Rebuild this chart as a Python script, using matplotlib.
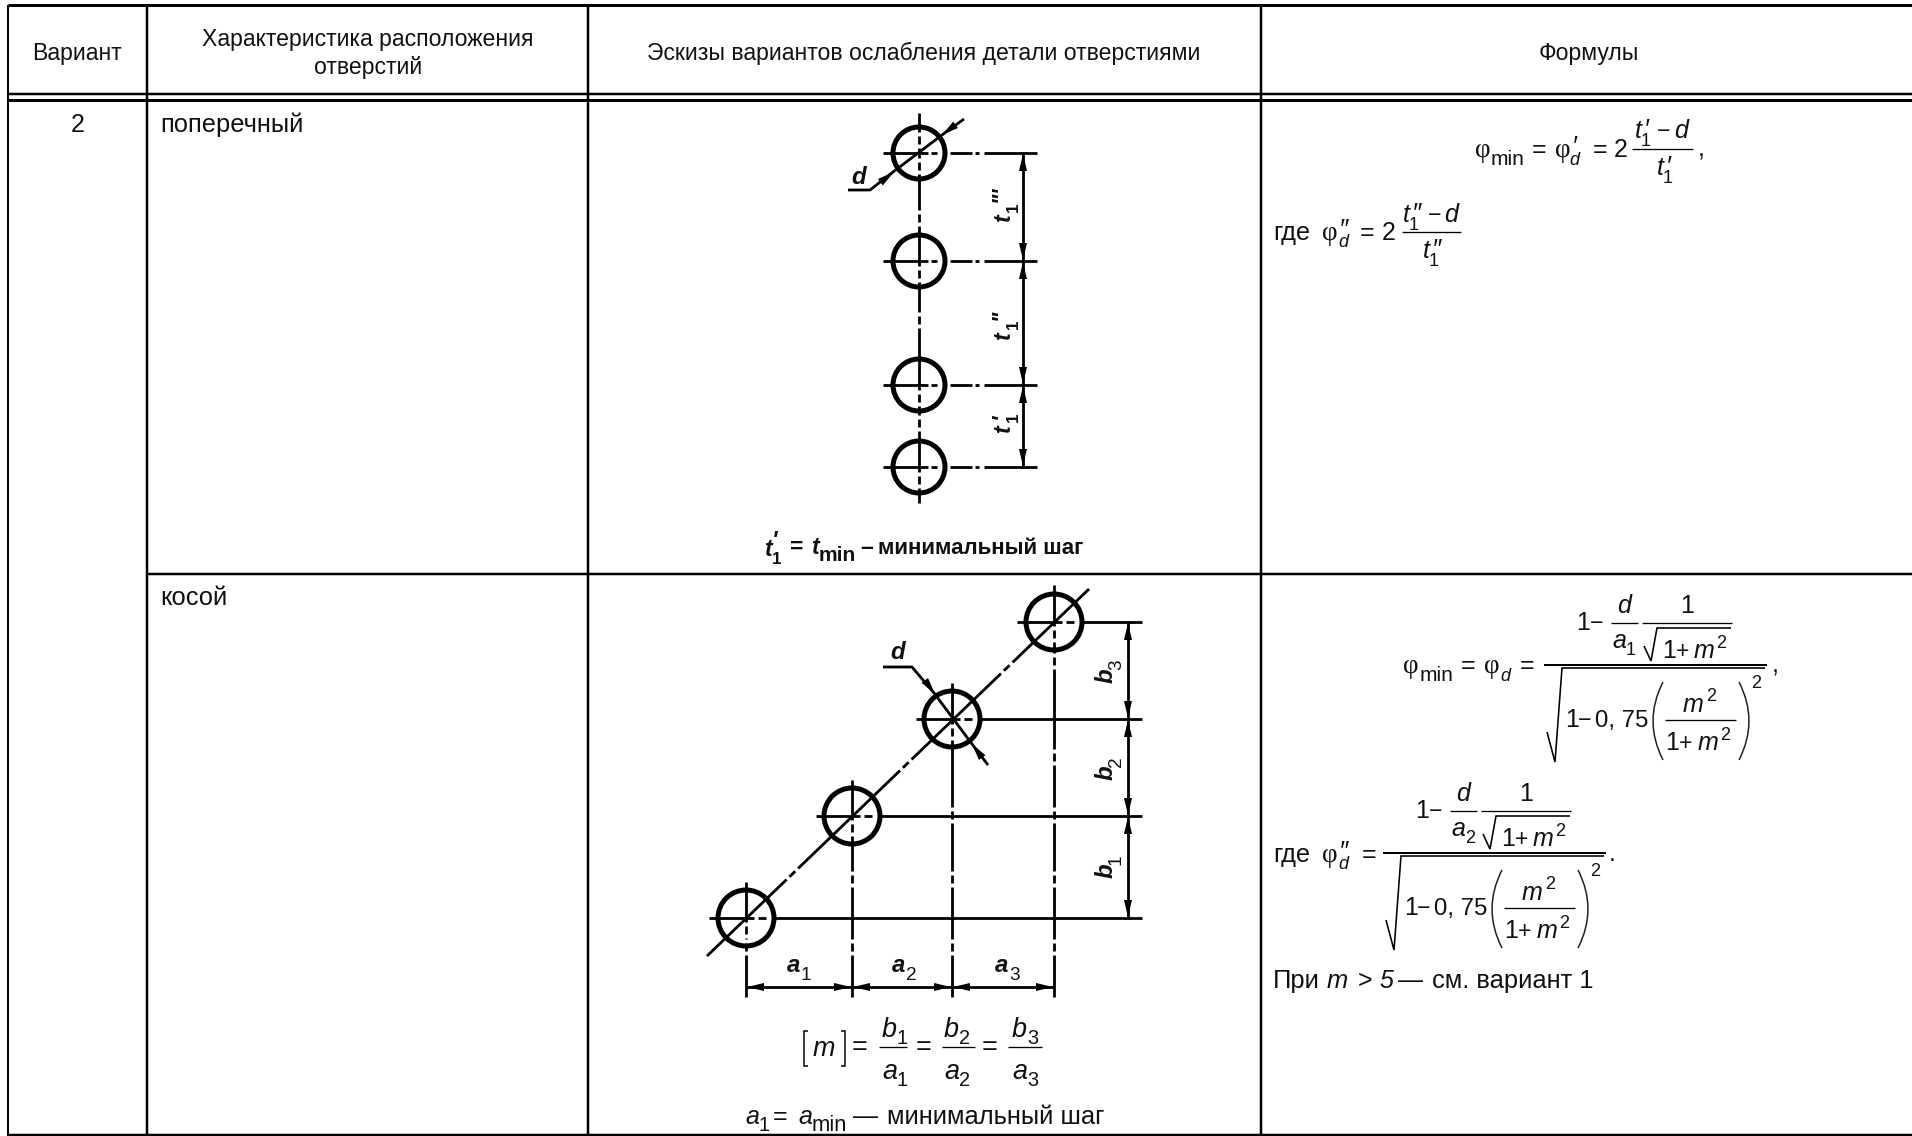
import numpy as np
import matplotlib
matplotlib.use('Agg')
import matplotlib.pyplot as plt
from matplotlib.path import Path
from matplotlib.patches import PathPatch, Circle, Polygon

# table layout, in reference pixels
col_x = [8, 147, 588, 1261]
head_top, head_bot, head_bot2 = 5, 94, 100
row_sep = 574
page_w, page_h = 1912, 1136

header_cx = [77, 367, 924, 1589]
header_labels = ['Вариант', 'Характеристика расположения\nотверстий',
                 'Эскизы вариантов ослабления детали отверстиями', 'Формулы']
row_labels = ['поперечный', 'косой']

# first sketch: row of holes
d1_x = 919
d1_y = [153, 261, 385, 467]
d1_r = 26
d1_dim_x = 1023
d1_breaks = [140, 166, 218, 274, 320, 398, 423, 480]
d1_labels = [("'''", 222, 212, 202), ("''", 340, 329, 320), ("'", 433, 422, 419)]

# second sketch: slanted row of holes
d2_cx = [746, 852, 952, 1054]
d2_cy = [918, 816, 719, 622]
d2_r = 28
d2_dim_x = 1128
d2_dim_y = 987
d2_right = 1142
d2_left = [709, 816, 916, 1017]
d2_top = [882, 780, 683, 585]
d2_bottom = 997
d2_breaks = [[930, 947], [828, 879, 947], [732, 815, 879, 947],
             [634, 661, 757, 815, 879, 947]]
d2_diag_breaks = [874, 765, 668]
b_labels = [('3', 683, 670), ('2', 780, 767), ('1', 878, 865)]
a_labels = [('1', 787, 801), ('2', 892, 906), ('3', 995, 1009)]

fig = plt.figure(figsize=(page_w / 100, page_h / 100), dpi=100)
ax = fig.add_axes([0, 0, 1, 1])
ax.set_xlim(0, page_w)
ax.set_ylim(page_h, 0)
ax.axis('off')


def line(xs, ys, w=2.8):
    ax.plot(xs, ys, color='black', lw=w * 0.72, solid_capstyle='butt',
            solid_joinstyle='miter', zorder=3)


def txt(x, y, s, px=25, style='normal', weight='normal', fam='Liberation Sans', **kw):
    kw.setdefault('ha', 'left')
    kw.setdefault('va', 'baseline')
    ax.text(x, y, s, fontsize=px * 0.72, style=style, weight=weight, color='#111111',
            family=[fam, 'DejaVu Sans'], zorder=4, **kw)


def chain(x0, y0, x1, y1, breaks=(), w=2.8):
    # solid line with dash-dot breaks placed at the given y values
    length = np.hypot(x1 - x0, y1 - y0)
    ux, uy = (x1 - x0) / length, (y1 - y0) / length
    pos = 0.0
    for b in breaks:
        c = (b - y0) / uy
        line([x0 + ux * pos, x0 + ux * (c - 8)], [y0 + uy * pos, y0 + uy * (c - 8)], w)
        line([x0 + ux * (c - 4), x0 + ux * (c + 4)], [y0 + uy * (c - 4), y0 + uy * (c + 4)], w)
        pos = c + 8
    line([x0 + ux * pos, x1], [y0 + uy * pos, y1], w)


def arrow(tx, ty, dx, dy, size=17, half=4):
    n = np.hypot(dx, dy)
    dx, dy = dx / n, dy / n
    ax.add_patch(Polygon([[tx, ty],
                          [tx + dx * size - dy * half, ty + dy * size + dx * half],
                          [tx + dx * size + dy * half, ty + dy * size - dx * half]],
                         closed=True, color='black', lw=0, zorder=5))


def hole(x, y, r, w=5):
    ax.add_patch(Circle((x, y), r, fill=False, ec='black', lw=w * 0.72, zorder=4))


def frac_line(x0, x1, y, w=1.3):
    line([x0, x1], [y, y], w)


def paren(x_edge, x_mid, y0, y1):
    p = Path([(x_edge, y0), (x_mid, (y0 + y1) / 2), (x_edge, y1)],
             [Path.MOVETO, Path.CURVE3, Path.CURVE3])
    ax.add_patch(PathPatch(p, fill=False, ec='#222222', lw=1.1, zorder=3))


def phi(x, y):
    txt(x, y, 'φ', 27, fam='Liberation Serif')


def prime(x, y, s='′'):
    txt(x, y, s, 26, 'italic')


# table rules
line([col_x[0], page_w], [head_top, head_top], 3)
line([col_x[0], page_w], [head_bot, head_bot], 2.5)
line([col_x[0], page_w], [head_bot2, head_bot2], 3)
line([col_x[1], page_w], [row_sep, row_sep], 2.5)
line([col_x[0], col_x[0]], [head_top, page_h], 2)
for cx in col_x[1:]:
    line([cx, cx], [head_top, page_h], 2.5)
line([col_x[0], page_w], [1135, 1135], 2.5)

# header and row text
for cx, lab in zip(header_cx, header_labels):
    if '\n' in lab:
        a, b = lab.split('\n')
        txt(cx + 1, 46, a, 23, ha='center')
        txt(cx + 1, 74, b, 23, ha='center')
    else:
        txt(cx, 60, lab, 23, ha='center')
txt(78, 132, '2', 25, ha='center')
txt(160, 132, row_labels[0], 25.5)
txt(160, 605, row_labels[1], 25.5)

# first sketch
chain(d1_x, 113, d1_x, 503, d1_breaks)
for y in d1_y:
    hole(d1_x, y, d1_r)
    line([883, 928], [y, y])
    line([931, 937], [y, y])
    line([950, 972], [y, y])
    line([975, 979], [y, y])
    line([984, 1037], [y, y])
for ya, yb in zip(d1_y[:-1], d1_y[1:]):
    arrow(d1_dim_x, ya + 1, 0, 1)
    arrow(d1_dim_x, yb - 1, 0, -1)
line([d1_dim_x, d1_dim_x], [d1_y[0], d1_y[-1]], 2.8)
for primes, y_t, y_s, y_p in d1_labels:
    txt(1010, y_t, 't', 23, 'italic', 'bold', rotation=90, rotation_mode='anchor')
    txt(1018, y_s, '1', 17, weight='bold', rotation=90, rotation_mode='anchor')
    txt(1008, y_p, primes, 23, 'italic', 'bold', rotation=90, rotation_mode='anchor')
txt(851, 184, 'd', 24, 'italic', 'bold')
line([848, 870, 893, 942, 964], [190, 190, 172, 135, 119])
arrow(894, 172, -0.8, 0.6)
arrow(942, 135, 0.8, -0.6)
txt(764, 556, 't', 23, 'italic', 'bold')
txt(772, 564, '1', 17, weight='bold')
txt(772, 548, "'", 23, 'italic', 'bold')
txt(790, 554, '=', 23, weight='bold')
txt(811, 554, 't', 23, 'italic', 'bold')
txt(819, 561, 'min', 21, weight='bold')
txt(860, 554, '–', 23, weight='bold')
txt(878, 554, 'минимальный шаг', 22.3, weight='bold')

# second sketch
for i, (x, y) in enumerate(zip(d2_cx, d2_cy)):
    line([d2_left[i], x + 8], [y, y])
    line([x + 12, x + 20], [y, y])
    line([x + d2_r, d2_right], [y, y])
    chain(x, d2_top[i], x, d2_bottom, d2_breaks[i])
    hole(x, y, d2_r)
chain(707, 956, 1089, 589, d2_diag_breaks)
for y0, y1 in zip(d2_cy[1:], d2_cy[:-1]):
    arrow(d2_dim_x, y0 + 1, 0, 1)
    arrow(d2_dim_x, y1 - 1, 0, -1)
line([d2_dim_x, d2_dim_x], [d2_cy[-1], d2_cy[0]], 2.8)
line([d2_cx[0], d2_cx[-1]], [d2_dim_y, d2_dim_y], 2.8)
for xa, xb in zip(d2_cx[:-1], d2_cx[1:]):
    arrow(xa + 1, d2_dim_y, 1, 0)
    arrow(xb - 1, d2_dim_y, -1, 0)
for sub, y_b, y_s in b_labels:
    txt(1113, y_b, 'b', 24, 'italic', 'bold', rotation=90, rotation_mode='anchor')
    txt(1121, y_s, sub, 19, rotation=90, rotation_mode='anchor')
for sub, x_a, x_s in a_labels:
    txt(x_a, 972, 'a', 24, 'italic', 'bold')
    txt(x_s, 980, sub, 19)
txt(890, 659, 'd', 24, 'italic', 'bold')
line([883, 912, 934, 972, 988], [667, 667, 693, 744, 765])
arrow(935, 694, -0.6, -0.8)
arrow(972, 744, 0.6, 0.8)

# [m] ratio under the second sketch
line([808, 804, 804, 808], [1031, 1031, 1066, 1066], 1.5)
line([841, 845, 845, 841], [1031, 1031, 1066, 1066], 1.5)
txt(813, 1056, 'm', 27, 'italic')
for x_eq, x0, x1, x_t, sub in [(852, 879, 907, 882, '1'), (916, 942, 975, 944, '2'), (982, 1008, 1042, 1012, '3')]:
    txt(x_eq, 1055, '=', 27)
    frac_line(x0, x1, 1047)
    txt(x_t, 1037, 'b', 27, 'italic')
    txt(x_t + 15, 1044, sub, 20)
    txt(x_t, 1079, 'a', 27, 'italic')
    txt(x_t + 15, 1086, sub, 20)
txt(745, 1124, 'a', 25, 'italic')
txt(759, 1131, '1', 20)
txt(773, 1124, '=', 25)
txt(798, 1124, 'a', 25, 'italic')
txt(812, 1131, 'min', 22)
txt(853, 1124, '—', 25)
txt(887, 1124, 'минимальный шаг', 25.5)

# formulas, first row
phi(1475, 157)
txt(1491, 165, 'min', 21)
txt(1532, 157, '=', 25)
phi(1555, 157)
prime(1572, 154)
txt(1569, 165, 'd', 18, 'italic')
txt(1593, 157, '=', 25)
txt(1614, 157, '2', 25)
frac_line(1632, 1693, 149)
txt(1635, 138, 't', 25, 'italic')
txt(1641, 146, '1', 18)
prime(1644, 137)
txt(1657, 138, '−', 23)
txt(1674, 138, 'd', 25, 'italic')
txt(1657, 175, 't', 25, 'italic')
txt(1663, 183, '1', 18)
prime(1666, 174)
txt(1698, 157, ',', 25)

txt(1273, 240, 'где', 25.5)
phi(1322, 240)
prime(1339, 237, '″')
txt(1338, 247, 'd', 18, 'italic')
txt(1360, 240, '=', 25)
txt(1382, 240, '2', 25)
frac_line(1402, 1461, 232)
txt(1403, 222, 't', 25, 'italic')
txt(1409, 230, '1', 18)
prime(1412, 221, '″')
txt(1428, 222, '−', 23)
txt(1444, 222, 'd', 25, 'italic')
txt(1423, 258, 't', 25, 'italic')
txt(1429, 266, '1', 18)
prime(1432, 257, '″')


# the big fraction is the same in both formulas of the second row
def big_frac(dx, dy, sub):
    frac_line(1544 + dx, 1767 + dx, 665 + dy, 2)
    txt(1576 + dx, 630 + dy, '1', 25)
    txt(1590 + dx, 630 + dy, '−', 23)
    frac_line(1611 + dx, 1638 + dx, 623 + dy)
    txt(1617 + dx, 613 + dy, 'd', 25, 'italic')
    txt(1612 + dx, 648 + dy, 'a', 25, 'italic')
    txt(1626 + dx, 655 + dy, sub, 18)
    frac_line(1642 + dx, 1732 + dx, 623 + dy)
    txt(1680 + dx, 613 + dy, '1', 25)
    line([1644 + dx, 1651 + dx, 1657 + dx, 1731 + dx],
         [646 + dy, 661 + dy, 628 + dy, 628 + dy], 1.6)
    txt(1662 + dx, 658 + dy, '1', 25)
    txt(1676 + dx, 658 + dy, '+', 23)
    txt(1694 + dx, 658 + dy, 'm', 25, 'italic')
    txt(1716 + dx, 648 + dy, '2', 18)
    line([1547 + dx, 1555 + dx, 1562 + dx, 1765 + dx],
         [732 + dy, 762 + dy, 668 + dy, 668 + dy], 1.6)
    txt(1565 + dx, 727 + dy, '1', 25)
    txt(1578 + dx, 727 + dy, '−', 23)
    txt(1595 + dx, 727 + dy, '0, 75', 24)
    paren(1663 + dx, 1643 + dx, 682 + dy, 760 + dy)
    frac_line(1665 + dx, 1736 + dx, 720 + dy)
    txt(1683 + dx, 712 + dy, 'm', 25, 'italic')
    txt(1706 + dx, 701 + dy, '2', 18)
    txt(1665 + dx, 750 + dy, '1', 25)
    txt(1679 + dx, 750 + dy, '+', 23)
    txt(1698 + dx, 750 + dy, 'm', 25, 'italic')
    txt(1720 + dx, 740 + dy, '2', 18)
    paren(1739 + dx, 1759 + dx, 682 + dy, 760 + dy)
    txt(1751 + dx, 688 + dy, '2', 18)


phi(1403, 673)
txt(1420, 681, 'min', 21)
txt(1461, 673, '=', 25)
phi(1484, 673)
txt(1500, 681, 'd', 18, 'italic')
txt(1520, 673, '=', 25)
big_frac(0, 0, '1')
txt(1772, 673, ',', 25)

txt(1273, 862, 'где', 25.5)
phi(1322, 862)
prime(1339, 859, '″')
txt(1338, 869, 'd', 18, 'italic')
txt(1362, 862, '=', 25)
big_frac(-161, 188, '2')
txt(1609, 861, '.', 25)

txt(1273, 988, 'При', 25.5)
txt(1327, 988, 'm', 25.5, 'italic')
txt(1358, 988, '>', 25)
txt(1379, 988, '5', 25, 'italic')
txt(1398, 988, '—', 25)
txt(1432, 988, 'см. вариант 1', 25.5)

fig.savefig('out.png', dpi=100)
